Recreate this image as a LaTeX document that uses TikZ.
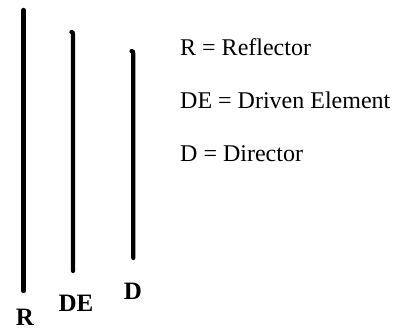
\documentclass[tikz,border=0pt]{standalone}
\usepackage{fontspec}
\setmainfont{Liberation Serif}
\begin{document}
\begin{tikzpicture}[x=1pt,y=-1pt,
  rod/.style={line width=4.2pt,black,line cap=round},
  legend/.style={anchor=base west,inner sep=0pt,font=\fontsize{24}{24}\selectfont},
  rodlabel/.style={anchor=base,inner sep=0pt,font=\fontsize{25}{25}\selectfont\bfseries}]
\useasboundingbox[fill=white] (0,0) rectangle (397,329);
% rods
\draw[rod] (23.5,10) -- (23.5,291);
\draw[rod] (71.5,32) .. controls (72.8,32.5) .. (73,35) -- (73,271);
\draw[rod] (131.5,51) .. controls (133,51.5) .. (133.3,54) -- (133.3,258);
% rod labels
\node[rodlabel] (lr) at (25,325) {R};
\node[rodlabel] (lde) at (76,311) {DE};
\node[rodlabel] (ld) at (133,299) {D};
% legend
\node[legend] (t1) at (180,56) {R = Reflector};
\node[legend] (t2) at (180,109) {DE = Driven Element};
\node[legend] (t3) at (180,161) {D = Director};
\end{tikzpicture}
\end{document}
